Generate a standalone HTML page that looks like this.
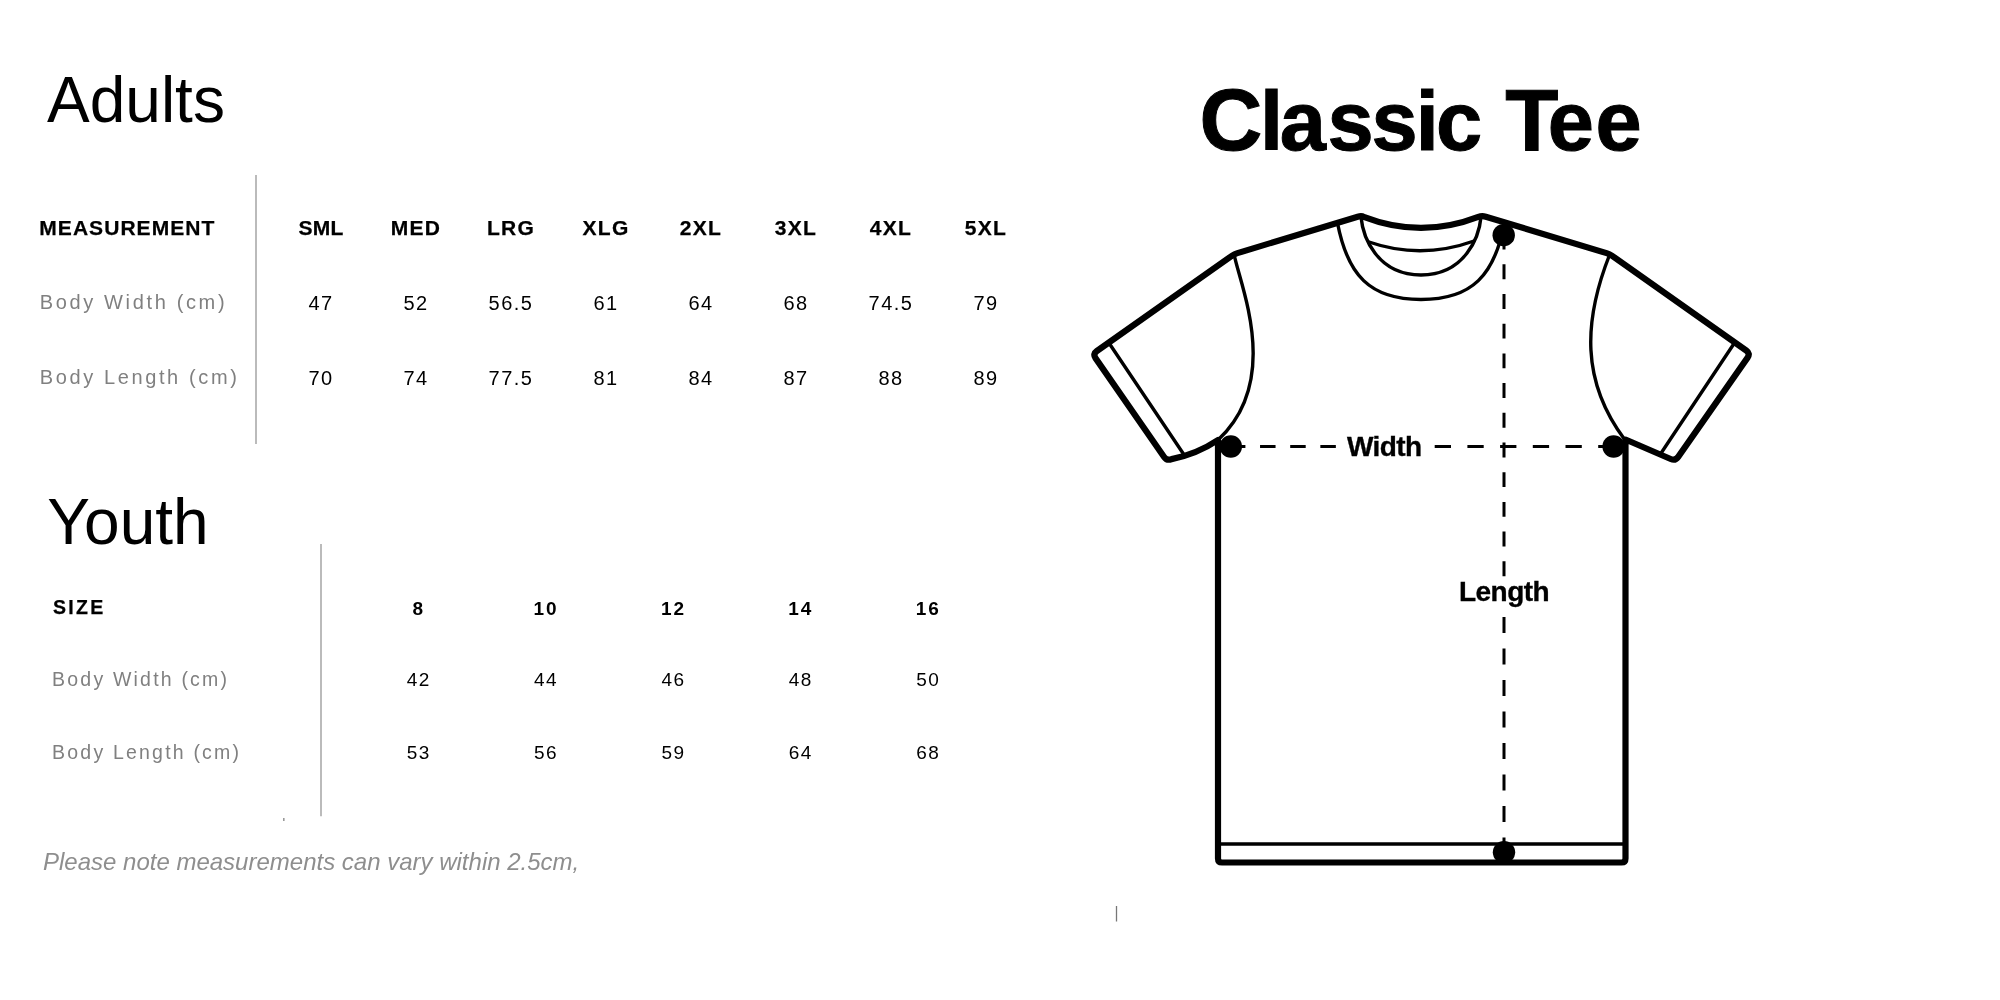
<!DOCTYPE html>
<html>
<head>
<meta charset="utf-8">
<style>
html,body{margin:0;padding:0;background:#fff;width:2000px;height:1000px;overflow:hidden;}
svg{display:block;will-change:transform;}
text{font-family:"Liberation Sans",sans-serif;}
.title{font-size:64px;fill:#000;}
.hd{font-size:21px;font-weight:bold;fill:#000;stroke:#000;stroke-width:0.25px;letter-spacing:1.3px;}
.hd0{font-size:21px;font-weight:bold;fill:#000;stroke:#000;stroke-width:0.25px;letter-spacing:1.05px;}
.lb{font-size:20px;fill:#808080;letter-spacing:2.65px;}
.nm{font-size:20px;fill:#000;letter-spacing:1.5px;}
.yhd{font-size:19px;font-weight:bold;fill:#000;letter-spacing:2px;}
.ylb{font-size:19.5px;fill:#808080;letter-spacing:2.2px;}
.yhd0{font-size:19.5px;font-weight:bold;fill:#000;stroke:#000;stroke-width:0.25px;letter-spacing:2.3px;}
.ynm{font-size:19px;fill:#000;letter-spacing:1.5px;}
.note{font-size:24px;font-style:italic;fill:#8e8e8e;letter-spacing:0px;}
.big{font-size:83px;font-weight:bold;fill:#000;}
.lab{font-size:28px;font-weight:bold;fill:#000;stroke:#000;stroke-width:0.35px;}
</style>
</head>
<body>
<svg width="2000" height="1000" viewBox="0 0 2000 1000">
<rect width="2000" height="1000" fill="#fff"/>

<!-- Adults -->
<text class="title" x="47" y="122">Adults</text>
<line x1="256" y1="175" x2="256" y2="444" stroke="#bbb" stroke-width="2"/>
<text class="hd0" x="39.3" y="235.2">MEASUREMENT</text>
<g class="hd" text-anchor="middle">
<text class="hd" x="321" y="235.2" style="letter-spacing:0.2px">SML</text>
<text class="hd" x="416" y="235.2">MED</text>
<text class="hd" x="511" y="235.2">LRG</text>
<text class="hd" x="606" y="235.2">XLG</text>
<text class="hd" x="701" y="235.2">2XL</text>
<text class="hd" x="796" y="235.2">3XL</text>
<text class="hd" x="891" y="235.2">4XL</text>
<text class="hd" x="986" y="235.2">5XL</text>
</g>
<text class="lb" x="39.7" y="309">Body Width (cm)</text>
<text class="lb" x="39.7" y="384" style="letter-spacing:2.62px">Body Length (cm)</text>
<g text-anchor="middle">
<text class="nm" x="321" y="310">47</text>
<text class="nm" x="416" y="310">52</text>
<text class="nm" x="511" y="310">56.5</text>
<text class="nm" x="606" y="310">61</text>
<text class="nm" x="701" y="310">64</text>
<text class="nm" x="796" y="310">68</text>
<text class="nm" x="891" y="310">74.5</text>
<text class="nm" x="986" y="310">79</text>
<text class="nm" x="321" y="384.5">70</text>
<text class="nm" x="416" y="384.5">74</text>
<text class="nm" x="511" y="384.5">77.5</text>
<text class="nm" x="606" y="384.5">81</text>
<text class="nm" x="701" y="384.5">84</text>
<text class="nm" x="796" y="384.5">87</text>
<text class="nm" x="891" y="384.5">88</text>
<text class="nm" x="986" y="384.5">89</text>
</g>

<!-- Youth -->
<text class="title" x="47.3" y="544">Youth</text>
<line x1="321" y1="544" x2="321" y2="816.3" stroke="#bbb" stroke-width="2"/>
<line x1="283.8" y1="818" x2="283.8" y2="821" stroke="#999" stroke-width="1.6"/>
<text class="yhd0" x="52.9" y="614.2">SIZE</text>
<text class="ylb" x="52.1" y="686">Body Width (cm)</text>
<text class="ylb" x="52.1" y="759">Body Length (cm)</text>
<g text-anchor="middle">
<text class="yhd" x="418.7" y="614.8">8</text>
<text class="yhd" x="546" y="614.8">10</text>
<text class="yhd" x="673.5" y="614.8">12</text>
<text class="yhd" x="800.8" y="614.8">14</text>
<text class="yhd" x="928.3" y="614.8">16</text>
<text class="ynm" x="418.7" y="686">42</text>
<text class="ynm" x="546" y="686">44</text>
<text class="ynm" x="673.5" y="686">46</text>
<text class="ynm" x="800.8" y="686">48</text>
<text class="ynm" x="928.3" y="686">50</text>
<text class="ynm" x="418.7" y="759">53</text>
<text class="ynm" x="546" y="759">56</text>
<text class="ynm" x="673.5" y="759">59</text>
<text class="ynm" x="800.8" y="759">64</text>
<text class="ynm" x="928.3" y="759">68</text>
</g>
<text class="note" x="43" y="869.5">Please note measurements can vary within 2.5cm,</text>
<line x1="1116.5" y1="906" x2="1116.5" y2="921.5" stroke="#777" stroke-width="1.3"/>

<!-- Classic Tee -->
<text class="big" y="150" stroke="#000" stroke-width="1"><tspan x="1199.6" font-size="87">C</tspan><tspan x="1259.9 1279.7 1327.4 1371.4 1415.8 1436.0">lassic</tspan><tspan x="1505.2" font-size="87">T</tspan><tspan x="1547.8 1595.4">ee</tspan></text>

<!-- T-shirt -->
<g fill="none" stroke="#000" stroke-linejoin="round" stroke-linecap="round">
<path stroke-width="6.2" d="M1218,440 L1218,858.5 Q1218,862.5 1222,862.5 L1621.5,862.5 Q1625.5,862.5 1625.5,858.5 L1625.5,439.5 L1670.7,459 Q1675.3,461 1678.2,456.9 L1747.6,357.6 Q1750.5,353.5 1746.4,350.6 L1612,255.7 Q1609.5,254 1606.6,253.1 L1485.8,216.7 Q1482,215.5 1478.3,216.9 Q1421,239 1363.7,216.9 Q1361.5,215.5 1357.7,216.7 L1237.4,253.1 Q1234.5,254 1232,255.7 L1096.7,351.1 Q1092.6,354 1095.5,358.1 L1164.1,456.9 Q1167,461 1171.6,459.1 Q1196.7,454.2 1218,440 Z"/>
<g stroke-width="3.4">
<path d="M1110,344.5 L1183.5,454"/>
<path d="M1733.4,344.5 L1660.5,454"/>
<path d="M1234,254 C1239.9,285.3 1282.3,380 1218,440"/>
<path d="M1609.5,255 C1583.8,320.4 1580.5,380.9 1625,440"/>
<path d="M1337.5,223 C1347.5,274.7 1369.4,299.5 1421,299.5 C1472.6,299.5 1494.5,274.7 1504.5,223"/>
<path d="M1361,217 C1362.8,236.5 1376.8,275 1421,275 C1465.2,275 1479.2,236.5 1481,217"/>
<path d="M1369,242 Q1421,260 1474,241"/>
<path d="M1218,844 L1625,844"/>
</g>
</g>
<!-- dashed -->
<g stroke="#000" stroke-width="3" fill="none">
<path d="M1504,234.6 L1504,576.2" stroke-dasharray="14.9 14.8"/>
<path d="M1504,617.1 L1504,853" stroke-dasharray="16 15.5"/>
<path d="M1229.9,446.5 L1336,446.5" stroke-dasharray="15.5 14.65"/>
<path d="M1434.7,446.5 L1614,446.5" stroke-dasharray="16.3 16.4"/>
</g>
<g fill="#000">
<circle cx="1503.7" cy="235.2" r="11.2"/>
<circle cx="1230.8" cy="446.5" r="11.2"/>
<circle cx="1613.6" cy="446.5" r="11.2"/>
<circle cx="1504" cy="852.3" r="11.2"/>
</g>
<text class="lab" x="1347" y="456" letter-spacing="-0.6">Width</text>
<text class="lab" x="1459" y="601.4" letter-spacing="-0.55">Length</text>
</svg>
</body>
</html>
